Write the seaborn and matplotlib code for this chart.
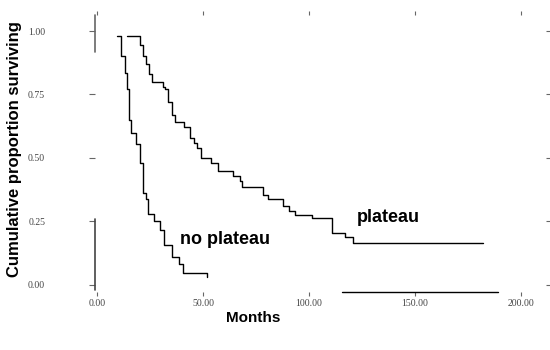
import matplotlib
matplotlib.use("Agg")
import matplotlib.pyplot as plt
import seaborn as sns
import pandas as pd

sns.set_theme(style="white")
plt.rcParams['font.family'] = ['Liberation Sans', 'DejaVu Sans']
plt.rcParams['text.color'] = 'black'
plt.rcParams['axes.labelcolor'] = 'black'

# Kaplan-Meier step values (months, proportion surviving)
plateau_months = [14, 20, 21.5, 23, 24.5, 26, 31, 32, 33.5, 35.5, 36.5, 41, 44, 45.5, 47,
                  49, 53.5, 57, 64, 67.5, 68.5, 78.5, 80.5, 87.5, 90.5, 93.5, 101.5, 111,
                  117, 121, 182]
plateau_surv = [0.98, 0.945, 0.90, 0.87, 0.83, 0.80, 0.78, 0.77, 0.72, 0.67, 0.64, 0.62,
                0.58, 0.56, 0.54, 0.50, 0.48, 0.45, 0.43, 0.41, 0.385, 0.355, 0.34, 0.31,
                0.29, 0.275, 0.265, 0.205, 0.19, 0.165, 0.165]

noplateau_months = [9.5, 11, 13, 14, 15, 16, 18.5, 20, 21.5, 23, 24, 27, 29.5, 31.5, 35.5,
                    38.5, 40.5, 52]
noplateau_surv = [0.98, 0.90, 0.835, 0.77, 0.65, 0.60, 0.555, 0.48, 0.36, 0.34, 0.28, 0.25,
                  0.215, 0.155, 0.11, 0.08, 0.045, 0.03]

x_ticks = [0, 50, 100, 150, 200]
y_ticks = [0.0, 0.25, 0.50, 0.75, 1.00]

df_p = pd.DataFrame({"months": plateau_months, "surv": plateau_surv})
df_n = pd.DataFrame({"months": noplateau_months, "surv": noplateau_surv})

fig = plt.figure(figsize=(5.5, 3.5), dpi=100)
ax = fig.add_axes([0.173, 0.166, 0.820, 0.791])

sns.lineplot(data=df_p, x="months", y="surv", ax=ax, color="black", lw=1.0,
             drawstyle="steps-post", estimator=None)
sns.lineplot(data=df_n, x="months", y="surv", ax=ax, color="black", lw=1.0,
             drawstyle="steps-post", estimator=None)

ax.set_xlim(-1, 212)
ax.set_ylim(-0.028, 1.063)

# the scanned frame is mostly faded: keep only the visible bits
for s in ax.spines.values():
    s.set_visible(False)
ax.axvline(-1, ymin=0.007, ymax=0.264, color="#444444", lw=1.2, clip_on=False)
ax.axvline(-1, ymin=0.866, ymax=1.0, color="#666666", lw=1.2, clip_on=False)
ax.axhline(-0.028, xmin=0.548, xmax=0.894, color="black", lw=1.0, clip_on=False)

ax.set_xticks(x_ticks)
ax.set_xticklabels([f"{v:.2f}" for v in x_ticks])
ax.set_yticks(y_ticks)
ax.set_yticklabels([f"{v:.2f}" for v in y_ticks])
ax.tick_params(axis="both", labelsize=7, labelcolor="#444444", color="#666666",
               width=0.8, bottom=True, left=True)
ax.tick_params(axis="y", pad=32, length=4)
ax.tick_params(axis="x", pad=2, length=3)
ax.tick_params(top=True, right=True, labeltop=False, labelright=False)
for lab in ax.get_xticklabels() + ax.get_yticklabels():
    lab.set_family(["Liberation Serif", "DejaVu Serif"])

ax.text(122.5, 0.265, "plateau", fontsize=13, fontweight="bold", va="center", ha="left")
ax.text(39, 0.177, "no plateau", fontsize=13, fontweight="bold", va="center", ha="left")

ax.set_xlabel("Months", fontsize=11, fontweight="bold")
ax.xaxis.set_label_coords(0.35, -0.068)
ax.set_ylabel("Cumulative proportion surviving", fontsize=12, fontweight="bold")
ax.yaxis.set_label_coords(-0.162, 0.516)
ax.grid(False)

fig.savefig("out.png", dpi=100)
